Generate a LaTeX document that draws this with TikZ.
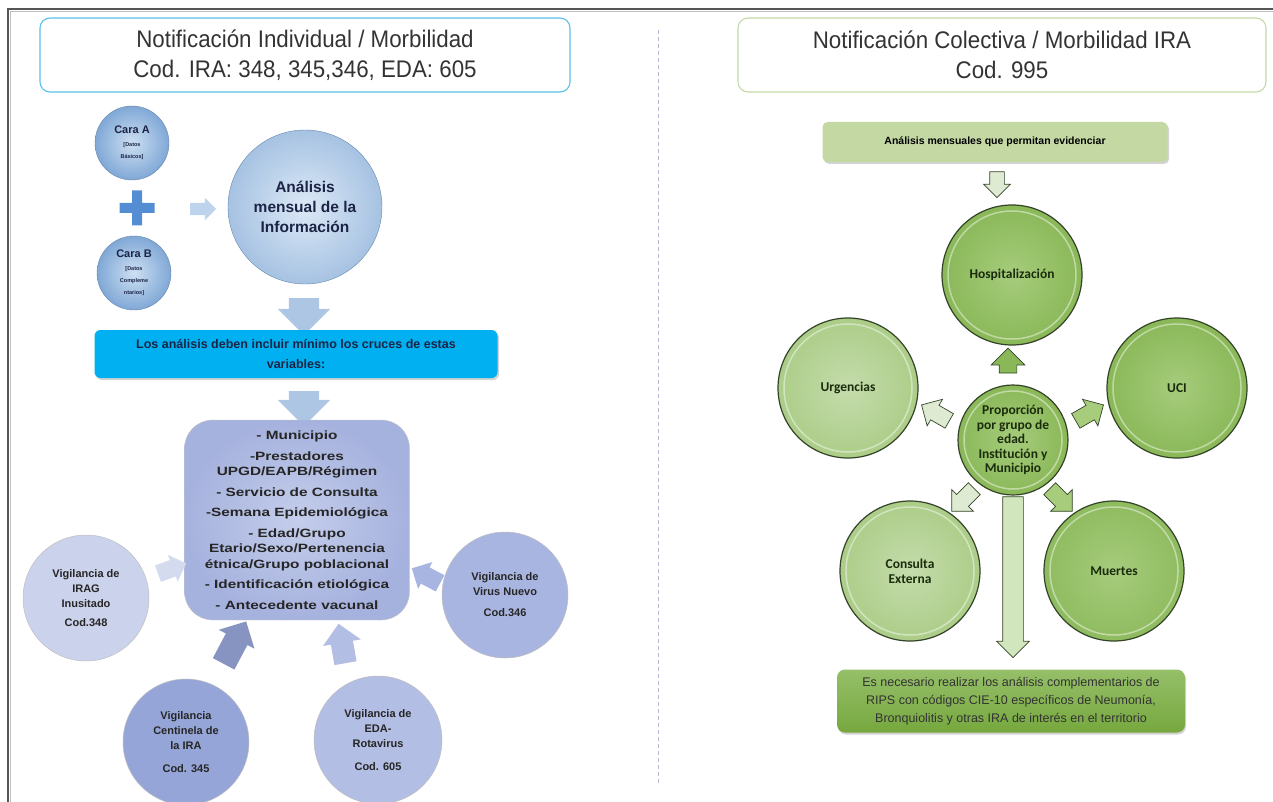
\documentclass[tikz,border=0pt]{standalone}
\usepackage{fontspec}
\setmainfont{Liberation Sans}
\newfontfamily\narrowfont[FakeStretch=0.93]{Liberation Sans}
\newfontfamily\widebold[FakeStretch=1.28]{Liberation Sans Bold}
\newfontfamily\calfont{Carlito}
\usetikzlibrary{shapes.arrows,shadows,positioning}
\definecolor{framegray}{RGB}{85,85,85}
\definecolor{titleblue}{RGB}{91,192,235}
\definecolor{titlegreen}{RGB}{197,217,168}
\definecolor{navytext}{RGB}{28,36,70}
\definecolor{skyblue}{RGB}{0,176,240}
\definecolor{cirblue}{RGB}{128,168,214}
\definecolor{cirblueL}{RGB}{205,223,242}
\definecolor{plusblue}{RGB}{84,141,212}
\definecolor{lavbox}{RGB}{166,178,222}
\definecolor{lavboxL}{RGB}{196,205,235}
\definecolor{lavA}{RGB}{203,210,235}
\definecolor{lavB}{RGB}{150,165,215}
\definecolor{lavC}{RGB}{178,190,227}
\definecolor{lavD}{RGB}{168,181,224}
\definecolor{leafgreen}{RGB}{138,184,88}
\definecolor{leafgreenL}{RGB}{166,204,124}
\definecolor{leafpale}{RGB}{172,205,136}
\definecolor{leafedge}{RGB}{52,68,40}
\definecolor{leaftext}{RGB}{26,44,12}
\definecolor{boxgreen}{RGB}{196,216,164}
\definecolor{boxgreenD}{RGB}{118,168,62}
\definecolor{arrowpale}{RGB}{222,234,210}
\newcommand{\carafont}{\fontsize{11}{13}\selectfont}
\newcommand{\datosfont}{\fontsize{5.5}{7}\selectfont}

\begin{document}
\begin{tikzpicture}[
    x=1pt, y=-1pt,
    titlebox/.style={rectangle, draw, rounded corners=10pt, line width=1.1pt, minimum width=530pt, minimum height=74pt, align=center, font=\narrowfont\fontsize{24}{30}\selectfont, text=black!80},
    bluecirc/.style={circle, draw=cirblue!80!black, line width=0.4pt, inner color=cirblueL, outer color=cirblue, align=center, text=navytext, inner sep=0pt, font=\bfseries},
    lavcirc/.style={circle, draw=black!25, line width=0.5pt, minimum size=126pt, inner sep=0pt, align=center, font=\bfseries\fontsize{11}{15}\selectfont, text=black!85},
    greencirc/.style={circle, draw=leafedge, line width=1.2pt, minimum size=140pt, inner sep=0pt, align=center, font=\calfont\bfseries\fontsize{13.5}{15}\selectfont, text=leaftext},
    blockarrow/.style n args={3}{single arrow, draw=none, inner sep=0pt, inner ysep=#3*0.5, minimum height=#1, minimum width=#2, single arrow head extend=(#2-#3)*0.5},
    hollowarrow/.style={draw=leafedge, line width=0.7pt, fill=arrowpale}
]
\useasboundingbox (0,0) rectangle (1273,802);

% frame and divider
\draw[framegray, line width=2pt] (1273,9) -- (8,9) -- (8,802);
\draw[black!25, line width=1pt] (1273,11.5) -- (10.5,11.5) -- (10.5,802);
\draw[blue!25!gray!45, line width=0.7pt, dash pattern=on 4pt off 3pt] (658,30) -- (658,785);

% titles
\node[titlebox, draw=titleblue] (titleL) at (305,55) {Notificación Individual / Morbilidad\\Cod. IRA: 348, 345,346, EDA: 605};
\node[titlebox, draw=titlegreen, minimum width=528pt] (titleR) at (1002,55) {Notificación Colectiva / Morbilidad IRA\\Cod. 995};

% left: individual notification
\node[bluecirc, minimum size=74pt] (caraA) at (132,143) {\carafont Cara A\\[1pt]\datosfont [Datos\\\datosfont Básicos]};
\node[bluecirc, minimum size=74pt] (caraB) at (134,273) {\carafont Cara B\\[1pt]\datosfont [Datos\\\datosfont Compleme\\\datosfont ntarios]};
\fill[plusblue] (119.5,203) rectangle (154.5,213) (132,190.5) rectangle (142,225.5);
\node[blockarrow={26pt}{22pt}{12pt}, fill=cirblueL!80!cirblue] (arrCA) at (200,209) {};
\node[bluecirc, minimum size=154pt, inner color=cirblueL!70!white, outer color=cirblue!70!white, font=\bfseries\fontsize{15.5}{20}\selectfont] (analisis) at (305,207) {Análisis\\mensual de la\\Información};

\node[blockarrow={37pt}{52pt}{30pt}, fill=cirblue!65!white, rotate=-90] (arrD1) at (304,309) {};
\node[rectangle, rounded corners=6pt, fill=skyblue, minimum width=403pt, minimum height=48pt, align=center,
      drop shadow={opacity=0.35, shadow xshift=1.5pt, shadow yshift=-2pt},
      font=\bfseries\fontsize{12.5}{20}\selectfont, text=navytext] (cruces) at (296,354) {Los análisis deben incluir mínimo los cruces de estas\\variables:};
\node[blockarrow={35pt}{52pt}{30pt}, fill=cirblue!65!white, rotate=-90] (arrD2) at (304,401) {};

\node[rectangle, rounded corners=28pt, draw=black!20, inner color=lavboxL, outer color=lavbox, minimum width=225pt, minimum height=200pt, align=center,
      font=\widebold\fontsize{12}{15.5}\selectfont, text=black!85] (vars) at (297,520)
  {- Municipio\\[5pt]-Prestadores\\UPGD/EAPB/Régimen\\[5pt]- Servicio de Consulta\\[5pt]-Semana Epidemiológica\\[5pt]- Edad/Grupo\\Etario/Sexo/Pertenencia\\étnica/Grupo poblacional\\[5pt]- Identificación etiológica\\[5pt]- Antecedente vacunal};

\node[lavcirc, fill=lavA] (irag) at (86,598) {Vigilancia de\\IRAG\\Inusitado\\[4pt]Cod.348};
\node[lavcirc, fill=lavB] (centinela) at (186,742) {Vigilancia\\Centinela de\\la IRA\\[8pt]Cod. 345};
\node[lavcirc, fill=lavC, minimum size=128pt] (eda) at (378,740) {Vigilancia de\\EDA-\\Rotavirus\\[8pt]Cod. 605};
\node[lavcirc, fill=lavD] (virus) at (505,595) {Vigilancia de\\Virus Nuevo\\[6pt]Cod.346};

\node[blockarrow={30pt}{28pt}{17pt}, fill=lavA!80!white, rotate=20] (arrIrag) at (168,570) {};
\node[blockarrow={48pt}{40pt}{24pt}, fill=lavB!90!black, rotate=62] (arrCent) at (232,648) {};
\node[blockarrow={40pt}{38pt}{22pt}, fill=lavC, rotate=100] (arrEda) at (343,649) {};
\node[blockarrow={32pt}{30pt}{18pt}, fill=lavD, rotate=152] (arrVir) at (430,578) {};

% right: collective notification
\node[rectangle, rounded corners=5pt, fill=boxgreen, minimum width=345pt, minimum height=40pt,
      drop shadow={opacity=0.35, shadow xshift=1.5pt, shadow yshift=-2pt},
      font=\bfseries\fontsize{10.5}{12}\selectfont] (mensual) at (995,142) {Análisis mensuales que permitan evidenciar};
\node[blockarrow={26pt}{26pt}{14pt}, hollowarrow, rotate=-90] (arrTop) at (997,181) {};

\node[greencirc, inner color=leafgreenL, outer color=leafgreen] (hosp) at (1012,275) {Hospitalización};
\node[greencirc, inner color=leafpale!70!white, outer color=leafpale] (urg) at (848,388) {Urgencias};
\node[greencirc, inner color=leafgreenL, outer color=leafgreen] (uci) at (1177,388) {UCI};
\node[greencirc, inner color=leafpale!70!white, outer color=leafpale] (cons) at (910,571) {Consulta\\Externa};
\node[greencirc, inner color=leafgreenL, outer color=leafgreen!85!leafpale] (muertes) at (1114,571) {Muertes};
\node[greencirc, minimum size=110pt, inner color=leafgreenL, outer color=leafgreen, font=\calfont\bfseries\fontsize{13.5}{14.5}\selectfont] (prop) at (1013,440) {Proporción\\por grupo de\\edad.\\Institución y\\Municipio};
% shine rings
\foreach \c/\r in {hosp/64, urg/64, uci/64, cons/64, muertes/64, prop/49}
  \draw[white, opacity=0.45, line width=1.5pt] (\c.center) circle (\r pt);

\node[blockarrow={25pt}{33pt}{17pt}, hollowarrow, fill=leafgreen, rotate=90] (arrHosp) at (1008,365) {};
\node[blockarrow={32pt}{30pt}{16pt}, hollowarrow, rotate=150] (arrUrg) at (939,415) {};
\node[blockarrow={32pt}{30pt}{16pt}, hollowarrow, fill=leafgreenL, rotate=30] (arrUci) at (1086,415) {};
\node[blockarrow={32pt}{30pt}{16pt}, hollowarrow, rotate=225] (arrCons) at (966,497) {};
\node[blockarrow={32pt}{30pt}{16pt}, hollowarrow, fill=leafgreenL, rotate=-45] (arrMue) at (1058,497) {};
\node[blockarrow={161pt}{32pt}{20pt}, hollowarrow, fill=leafgreenL!50!white, rotate=-90] (arrLong) at (1013,572) {};

\node[rectangle, rounded corners=8pt, top color=leafgreen!90!white, bottom color=boxgreenD, minimum width=348pt, minimum height=63pt, align=center,
      drop shadow={opacity=0.35, shadow xshift=1pt, shadow yshift=-2pt},
      font=\fontsize{12.5}{18}\selectfont, text=black!80] (rips) at (1011,701)
  {Es necesario realizar los análisis complementarios de\\RIPS con códigos CIE-10 específicos de Neumonía,\\Bronquiolitis y otras IRA de interés en el territorio};
\end{tikzpicture}
\end{document}
